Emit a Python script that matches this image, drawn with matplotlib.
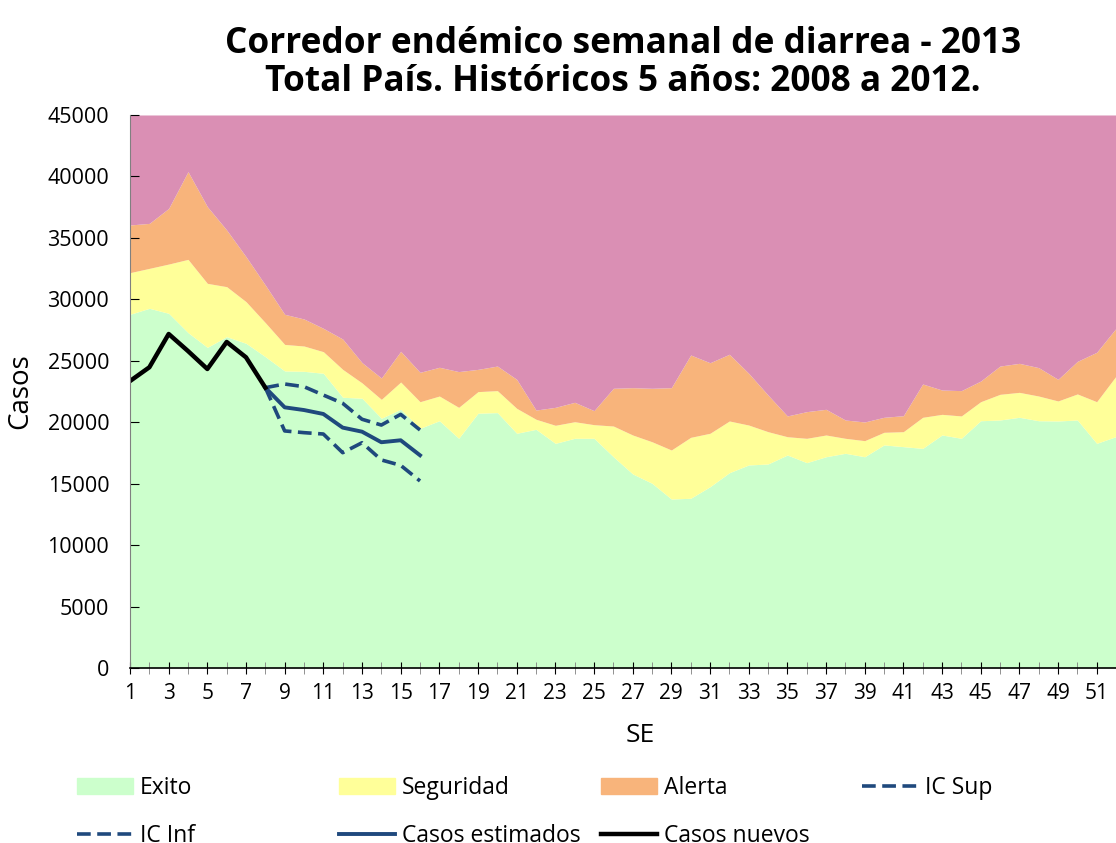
import matplotlib
matplotlib.use("Agg")
import matplotlib.pyplot as plt
from matplotlib.patches import Patch
from matplotlib.lines import Line2D

plt.rcParams['font.family'] = ['Open Sans', 'DejaVu Sans']

# semanas epidemiológicas
semanas = list(range(1, 53))

# límites superiores acumulados de cada zona
exito = [28780, 29270, 28860, 27290, 26090, 26960, 26420, 25330, 24170, 24140,
         23980, 22030, 21950, 20320, 21050, 19500, 20120, 18690, 20730, 20780,
         19100, 19420, 18280, 18690, 18690, 17190, 15790, 15030, 13750, 13810,
         14750, 15890, 16520, 16600, 17330, 16710, 17190, 17470, 17190, 18150,
         18010, 17870, 18960, 18690, 20120, 20180, 20400, 20120, 20100, 20180,
         18280, 18830]
seguridad = [32170, 32520, 32870, 33250, 31300, 31030, 29810, 28100, 26330, 26200,
             25740, 24300, 23200, 21860, 23270, 21670, 22130, 21210, 22490, 22570,
             21130, 20240, 19750, 20040, 19800, 19690, 18960, 18410, 17740, 18770,
             19100, 20100, 19770, 19230, 18820, 18690, 18960, 18690, 18500, 19180,
             19230, 20400, 20640, 20510, 21670, 22270, 22430, 22130, 21730, 22300,
             21670, 23750]
alerta = [36050, 36180, 37400, 40390, 37540, 35640, 33470, 31160, 28780, 28400,
          27640, 26770, 24850, 23600, 25770, 24060, 24470, 24120, 24300, 24570,
          23490, 20990, 21210, 21620, 20940, 22760, 22810, 22760, 22810, 25470,
          24840, 25530, 23980, 22210, 20510, 20860, 21050, 20180, 20020, 20400,
          20530, 23110, 22620, 22570, 23350, 24570, 24790, 24440, 23490, 24950,
          25690, 27640]
techo = 45000

# casos 2013
sem_nuevos = [1, 2, 3, 4, 5, 6, 7, 8]
casos_nuevos = [23350, 24470, 27180, 25790, 24330, 26530, 25280, 22810]

sem_est = [8, 9, 10, 11, 12, 13, 14, 15, 16]
casos_estimados = [22810, 21210, 20990, 20670, 19560, 19230, 18370, 18530, 17310]
ic_sup = [22810, 23110, 22890, 22210, 21540, 20240, 19770, 20640, 19370]
ic_inf = [22810, 19290, 19150, 19040, 17520, 18330, 16930, 16490, 15220]

c_exito = '#CCFFCC'
c_seg = '#FFFF99'
c_alerta = '#F8B47B'
c_epi = '#DA8FB4'
c_azul = '#1F497D'

fig = plt.figure(figsize=(11.16, 8.43), dpi=100)
ax = fig.add_axes([0.1165, 0.2076, 0.8835, 0.656])

ax.fill_between(semanas, 0, exito, color=c_exito, lw=0)
ax.fill_between(semanas, exito, seguridad, color=c_seg, lw=0)
ax.fill_between(semanas, seguridad, alerta, color=c_alerta, lw=0)
ax.fill_between(semanas, alerta, techo, color=c_epi, lw=0)

dash = (0, (3.8, 1.8))
ax.plot(sem_est, ic_sup, color=c_azul, lw=2.6, ls=dash)
ax.plot(sem_est, ic_inf, color=c_azul, lw=2.6, ls=dash)
ax.plot(sem_est, casos_estimados, color=c_azul, lw=2.8)
ax.plot(sem_nuevos, casos_nuevos, color='black', lw=3.2)

ax.set_xlim(1, 51.4)
ax.set_ylim(0, 45000)
ax.set_yticks(range(0, 45001, 5000))
ax.set_xticks(range(1, 52, 2))
ax.set_xticks(range(1, 53), minor=True)
ax.tick_params(axis='y', direction='in', length=6.5, labelsize=15.5, pad=15)
ax.tick_params(axis='x', which='major', direction='inout', length=9, labelsize=15, pad=6)
ax.tick_params(axis='x', which='minor', direction='inout', length=9, color='#808080')

for s in ['top', 'right']:
    ax.spines[s].set_visible(False)
ax.spines['left'].set_color('#808080')
ax.spines['bottom'].set_color('black')
ax.spines['bottom'].set_linewidth(1.2)

ax.set_xlabel('SE', fontsize=19)
ax.xaxis.set_label_coords(0.517, -0.10)
ax.set_ylabel('Casos', fontsize=20)
ax.yaxis.set_label_coords(-0.097, 0.5)

ax.set_title('Corredor endémico semanal de diarrea - 2013\nTotal País. Históricos 5 años: 2008 a 2012.',
             fontsize=25.4, fontweight='bold', pad=17, linespacing=1.08)

# leyenda en columnas, como en la planilla original
h_exito = Patch(color=c_exito)
h_seg = Patch(color=c_seg)
h_alerta = Patch(color=c_alerta)
h_sup = Line2D([], [], color=c_azul, lw=2.6, ls=dash)
h_inf = Line2D([], [], color=c_azul, lw=2.6, ls=dash)
h_est = Line2D([], [], color=c_azul, lw=2.8)
h_nuevos = Line2D([], [], color='black', lw=3.2)

columnas = [
    (0.069, [h_exito, h_inf], ['Exito', 'IC Inf']),
    (0.304, [h_seg, h_est], ['Seguridad', 'Casos estimados']),
    (0.5385, [h_alerta, h_nuevos], ['Alerta', 'Casos nuevos']),
    (0.7724, [h_sup], ['IC Sup']),
]
for x0, hs, ls in columnas:
    fig.legend(hs, ls, loc='upper left', bbox_to_anchor=(x0, 0.079),
               frameon=False, fontsize=16.5, handlelength=2.45, handletextpad=0.3,
               labelspacing=1.05, borderaxespad=0, borderpad=0)

fig.savefig('out.png', dpi=100)
